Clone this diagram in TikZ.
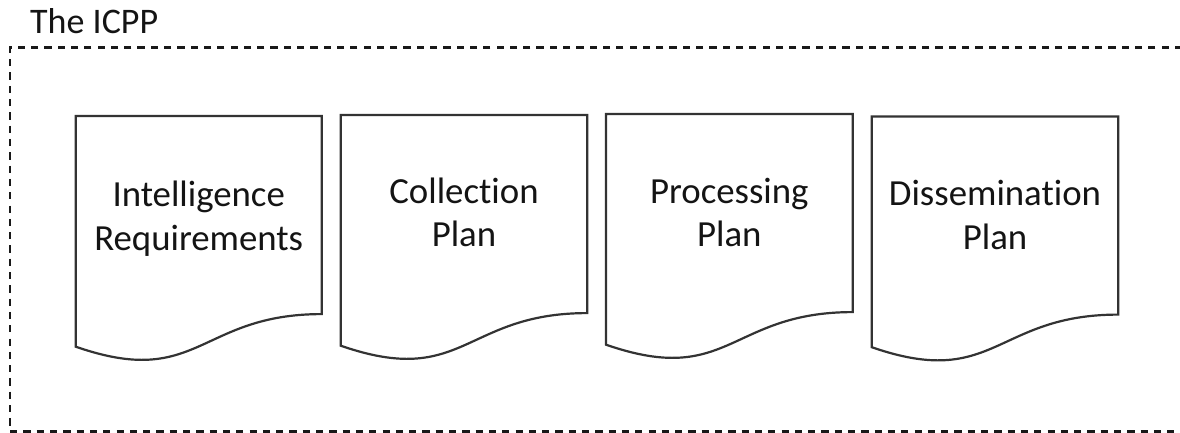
\documentclass[tikz,border=0pt]{standalone}
\usepackage{fontspec}
\setmainfont{Carlito}[Ligatures=NoCommon]
\begin{document}
\begin{tikzpicture}[x=1pt,y=-1pt,
  docshape/.style={draw=black!80, line width=2.2pt, fill=white, line join=miter},
  doclabel/.style={align=center, anchor=base, font=\fontsize{36.8}{43.5}\selectfont, text=black!92, inner sep=0pt},
  title/.style={anchor=base west, font=\fontsize{36}{40}\selectfont, text=black!92, inner sep=0pt},
  frame/.style={draw=black!90, line width=2.1pt, dash pattern=on 7.2pt off 6.1pt}]
\useasboundingbox (0,0) rectangle (1180,433);

% dashed frame, open towards the right
\draw[frame] (1182,47.5) -- (10,47.5) -- (10,431.5) -- (1182,431.5);
\node[title] (ttl) at (30,33.3) {The ICPP};

% document symbol: flat top, wavy bottom (#1,#2 = top left, #3 = width, #4 = height)
\newcommand{\docpath}[4]{%
  \draw[docshape] (#1,#2) -- ({#1+#3},#2) -- ({#1+#3},{#2+0.802*#4})
    .. controls ({#1+0.5*#3},{#2+0.802*#4}) and ({#1+0.5*#3},{#2+1.1075*#4}) .. (#1,{#2+0.9339*#4})
    -- cycle;}

\docpath{75.7}{116}{246}{247}
\docpath{340.7}{115}{246.5}{247}
\docpath{606}{114}{246.7}{247}
\docpath{871.7}{116.5}{246.6}{247}

% labels, placed by the baseline of their last line
\node[doclabel] (ir) at (198.7,250) {Intelligence\\Requirements};
\node[doclabel] (cp) at (464,246.7) {Collection\\Plan};
\node[doclabel] (pp) at (729.3,246.7) {Processing\\Plan};
\node[doclabel] (dp) at (995,249.3) {Dissemination\\Plan};
\end{tikzpicture}
\end{document}
